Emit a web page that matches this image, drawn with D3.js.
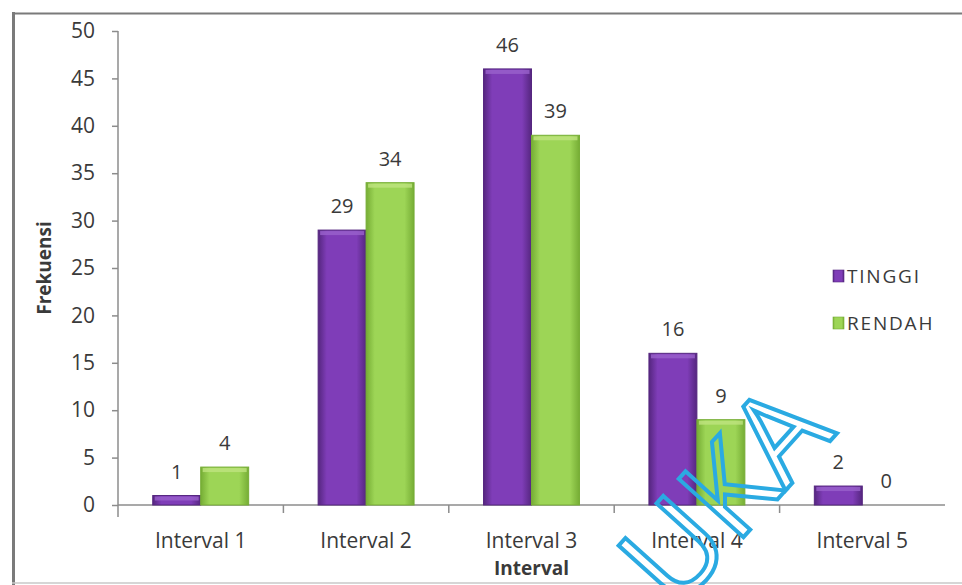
<!DOCTYPE html>
<html>
<head>
<meta charset="utf-8">
<script src="https://cdnjs.cloudflare.com/ajax/libs/d3/7.8.5/d3.min.js"></script>
<style>
  html, body { margin: 0; padding: 0; background: #ffffff; }
  svg { display: block; }
  text { font-family: "Open Sans", "Liberation Sans", sans-serif; fill: #3a3a3a; }
</style>
</head>
<body>
<svg id="chart" width="962" height="585"></svg>
<script>
// Frequency of scores per interval, split by group
const categories = ["Interval 1", "Interval 2", "Interval 3", "Interval 4", "Interval 5"];
const seriesNames = ["TINGGI", "RENDAH"];
const tinggi = [1, 29, 46, 16, 2];
const rendah = [4, 34, 39, 9, 0];
const yTicks = [0, 5, 10, 15, 20, 25, 30, 35, 40, 45, 50];
const yTitle = "Frekuensi";
const xTitle = "Interval";

const seriesValues = [tinggi, rendah];
const colors = {
  TINGGI: { edge: "#55267f", mid: "#7f3db8", top: "#9a62cc" },
  RENDAH: { edge: "#76ad35", mid: "#9dd556", top: "#bfe47f" }
};

const svg = d3.select("#chart");
const W = 962, H = 585;
const plot = { left: 118, right: 945, top: 31, bottom: 505 };

// gradients give the bars a rounded, lit look
const defs = svg.append("defs");
seriesNames.forEach(name => {
  const g = defs.append("linearGradient").attr("id", "grad-" + name)
    .attr("x1", "0%").attr("x2", "100%").attr("y1", "0%").attr("y2", "0%");
  g.append("stop").attr("offset", "0%").attr("stop-color", colors[name].edge);
  g.append("stop").attr("offset", "18%").attr("stop-color", colors[name].mid);
  g.append("stop").attr("offset", "80%").attr("stop-color", colors[name].mid);
  g.append("stop").attr("offset", "100%").attr("stop-color", colors[name].edge);
});

// outer frame
svg.append("rect").attr("x", 0).attr("y", 0).attr("width", W).attr("height", H).attr("fill", "#ffffff");
svg.append("line").attr("x1", 12).attr("x2", W).attr("y1", 13.5).attr("y2", 13.5)
  .attr("stroke", "#7a7a7a").attr("stroke-width", 2);
svg.append("line").attr("x1", 13.5).attr("x2", 13.5).attr("y1", 12).attr("y2", H)
  .attr("stroke", "#7a7a7a").attr("stroke-width", 3);
svg.append("line").attr("x1", 12).attr("x2", W).attr("y1", 583).attr("y2", 583)
  .attr("stroke", "#c8c8c8").attr("stroke-width", 1.5);

// scales
const x0 = d3.scaleBand().domain(categories)
  .range([plot.left, plot.right]).paddingInner(0.42).paddingOuter(0.21);
const x1 = d3.scaleBand().domain(seriesNames).range([0, x0.bandwidth()]);
const y = d3.scaleLinear().domain([0, 50]).range([plot.bottom, plot.top]);

// y axis
const yAxis = svg.append("g").attr("transform", `translate(${plot.left},0)`)
  .call(d3.axisLeft(y).tickValues(yTicks).tickSize(6).tickPadding(17).tickSizeOuter(0));
yAxis.select(".domain").attr("stroke", "#8c8c8c").attr("stroke-width", 1.5)
  .attr("d", `M0,${plot.top}V${plot.bottom + 12}`);
yAxis.selectAll(".tick line").attr("stroke", "#8c8c8c").attr("stroke-width", 1.5);
yAxis.selectAll(".tick text").attr("font-size", 21).attr("fill", "#3a3a3a")
  .attr("font-family", "Open Sans, sans-serif");

// x axis line and boundary ticks
svg.append("line").attr("x1", plot.left).attr("x2", plot.right)
  .attr("y1", plot.bottom).attr("y2", plot.bottom)
  .attr("stroke", "#8c8c8c").attr("stroke-width", 1.5);
const step = x0.step();
const boundaries = categories.map(c => x0(c) - step * x0.paddingInner() / 2).slice(1);
svg.selectAll(".xtick").data(boundaries).join("line").attr("class", "xtick")
  .attr("x1", d => d).attr("x2", d => d)
  .attr("y1", plot.bottom).attr("y2", plot.bottom + 8)
  .attr("stroke", "#8c8c8c").attr("stroke-width", 1.5);

// category labels
svg.selectAll(".xlab").data(categories).join("text").attr("class", "xlab")
  .attr("x", c => x0(c) + x0.bandwidth() / 2).attr("y", 548)
  .attr("text-anchor", "middle").attr("font-size", 21).text(c => c);

// bars
const groups = svg.selectAll(".grp").data(categories).join("g").attr("class", "grp")
  .attr("transform", c => `translate(${x0(c)},0)`);
groups.each(function (c, i) {
  const g = d3.select(this);
  seriesNames.forEach((name, s) => {
    const v = seriesValues[s][i];
    const bx = x1(name), bw = x1.bandwidth();
    if (v > 0) {
      g.append("rect").attr("x", bx).attr("y", y(v))
        .attr("width", bw).attr("height", y(0) - y(v))
        .attr("fill", `url(#grad-${name})`)
        .attr("stroke", colors[name].edge).attr("stroke-width", 1);
      g.append("rect").attr("x", bx + 2).attr("y", y(v) + 1)
        .attr("width", bw - 4).attr("height", Math.min(4, y(0) - y(v) - 1))
        .attr("fill", colors[name].top).attr("opacity", 0.8);
    }
    g.append("text").attr("x", bx + bw / 2).attr("y", y(v) - 17)
      .attr("text-anchor", "middle").attr("font-size", 20).text(v);
  });
});

// axis titles
svg.append("text").attr("x", (plot.left + plot.right) / 2).attr("y", 575)
  .attr("text-anchor", "middle").attr("font-size", 19).attr("font-weight", "bold")
  .attr("fill", "#222").text(xTitle);
svg.append("text").attr("transform", `translate(51,${(plot.top + plot.bottom) / 2}) rotate(-90)`)
  .attr("text-anchor", "middle").attr("font-size", 19).attr("font-weight", "bold")
  .attr("fill", "#222").text(yTitle);

// legend
const legend = svg.append("g").attr("transform", "translate(833,270)");
seriesNames.forEach((name, i) => {
  const row = legend.append("g").attr("transform", `translate(0,${i * 47})`);
  row.append("rect").attr("width", 11).attr("height", 12)
    .attr("fill", `url(#grad-${name})`).attr("stroke", colors[name].edge).attr("stroke-width", 0.6);
  row.append("text").attr("x", 14).attr("y", 13).attr("font-size", 19)
    .attr("letter-spacing", 1.8).text(name);
});

// watermark
svg.append("text").attr("transform", "translate(676,612) rotate(-48)")
  .attr("font-size", 122).attr("font-family", "DejaVu Sans, sans-serif")
  .attr("fill", "none").attr("stroke", "#2aaae2").attr("stroke-width", 4)
  .style("fill", "none").text("UKA");
</script>
</body>
</html>
